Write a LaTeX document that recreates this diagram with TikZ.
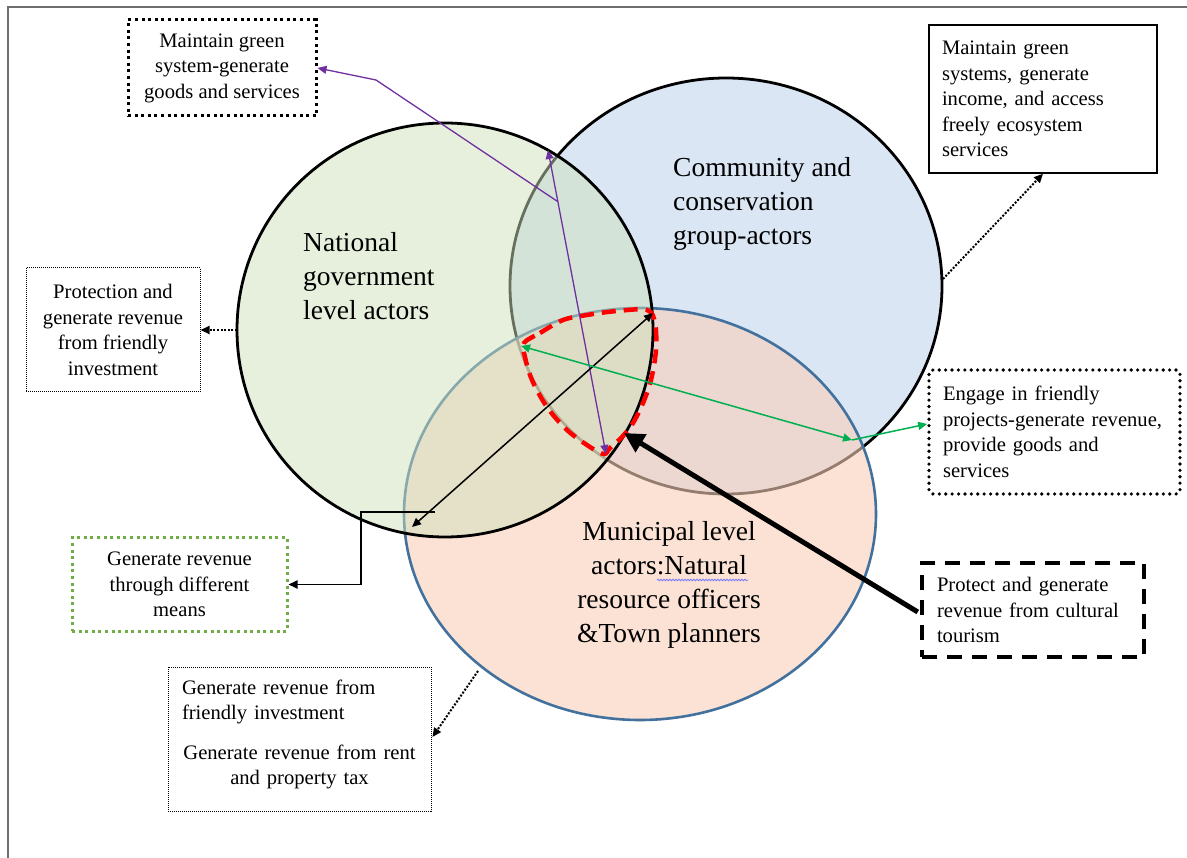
\documentclass[tikz,border=0pt]{standalone}
\usepackage{fontspec}
\setmainfont{Liberation Serif}
\usetikzlibrary{arrows.meta,shapes.geometric,decorations.pathmorphing,calc}

\definecolor{greenfill}{RGB}{207,225,187}
\definecolor{bluefill}{RGB}{218,230,244}
\definecolor{peachfill}{RGB}{248,207,185}
\definecolor{peachline}{RGB}{65,113,156}
\definecolor{arrowpurple}{RGB}{112,48,160}
\definecolor{arrowgreen}{RGB}{0,176,80}
\definecolor{boxgreen}{RGB}{112,173,71}
\definecolor{framegrey}{RGB}{110,110,110}
\definecolor{spellblue}{RGB}{120,120,255}

\tikzset{
  smalltip/.tip={Triangle[length=9pt,width=8pt]},
  actor/.style={ellipse, inner sep=0pt, outer sep=0pt},
  bigtext/.style={font=\fontsize{27.5}{34}\selectfont, inner sep=0pt},
  box/.style={rectangle, font=\fontsize{20.6}{25.5}\selectfont, inner ysep=0pt, fill=white},
  sqdots/.style={draw=black, line width=3pt, dash pattern=on 3pt off 3.6pt},
  solidbox/.style={draw=black, line width=1.4pt},
  finedots/.style={draw=black, line width=1pt, dash pattern=on 1pt off 1pt},
  greendots/.style={draw=boxgreen, line width=3pt, dash pattern=on 3pt off 3.6pt},
  rounddots/.style={draw=black, line width=3.6pt, line cap=round, dash pattern=on 0pt off 6.4pt, rounded corners=4pt},
  longdash/.style={draw=black, line width=4.5pt, dash pattern=on 15pt off 10pt},
  dotarrow/.style={black, line width=2pt, dash pattern=on 2pt off 1.6pt, -{smalltip}},
}

\begin{document}
\begin{tikzpicture}[x=1pt,y=-1pt]
\useasboundingbox (0,0) rectangle (1187,858);

% page frame
\coordinate (frameBL) at (8,858);
\coordinate (frameTL) at (8,7);
\coordinate (frameTR) at (1187,7);
\draw[framegrey, line width=1.6pt] (frameBL) -- (frameTL) -- (frameTR);

% the three actor groups
\node[actor, draw=black, line width=2.8pt, fill=bluefill,
      minimum width=432pt, minimum height=416pt] (community) at (726,286) {};
\node[actor, draw=peachline, line width=2.6pt, fill=peachfill, fill opacity=0.6,
      minimum width=472pt, minimum height=412pt] (municipal) at (640,514) {};
\node[actor, draw=black, line width=2.8pt, fill=greenfill, fill opacity=0.5,
      minimum width=416pt, minimum height=414pt] (national) at (445,330) {};

\node[bigtext, align=left, anchor=west] (natText) at (303,276)
  {National\\government\\level actors};
\node[bigtext, align=left, anchor=west] (comText) at (673,204)
  {Community and\\conservation\\group-actors};
\node[bigtext, align=center] (munText) at (669,585)
  {Municipal level\\actors:Natural\\resource officers\\\&Town planners};
\draw[spellblue, line width=0.8pt, decorate,
      decoration={snake, amplitude=0.8pt, segment length=3pt}]
  (657,580) -- (748,580);

% shared zone of all three groups
\draw[red, line width=4.5pt, dash pattern=on 14pt off 8pt]
  plot[smooth cycle, tension=0.55] coordinates {
    (524,343) (540,333) (563,320) (587,315) (617,311) (647,310)
    (655,323) (656,350) (651,380) (643,403) (633,423) (622,437)
    (610,448) (604,454) (590,447) (567,430) (547,407) (532,380) (525,357)};

% outcome boxes
\node[box, sqdots, minimum width=188pt, minimum height=96pt, align=center]
  (b1) at (222,68) {Maintain green\\system-generate\\goods and services};
\node[box, solidbox, minimum width=228pt, minimum height=148pt,
      text width=202pt, inner xsep=13pt, align=left]
  (b2) at (1043,99)
  {Maintain green\\systems, generate\\income, and access\\freely ecosystem\\services};
\node[box, finedots, minimum width=174pt, minimum height=124pt, align=center]
  (b3) at (113,330)
  {Protection and\\generate revenue\\from friendly\\investment};
\node[box, greendots, minimum width=215pt, minimum height=93pt, align=center]
  (b4) at (179.5,584.5)
  {Generate revenue\\through different\\means};
\node[box, finedots, minimum width=263pt, minimum height=144pt,
      text width=235pt, inner xsep=14pt]
  (b5) at (299.5,739)
  {\raggedright Generate revenue from\\friendly investment\par
   \vspace{14pt}\centering Generate revenue from rent\\and property tax\par
   \kern9pt};
\node[box, rounddots, minimum width=251pt, minimum height=124pt,
      text width=223pt, inner xsep=14pt, align=left]
  (b6) at (1054.5,432)
  {Engage in friendly\\projects-generate revenue,\\provide goods and\\services};
\node[box, longdash, minimum width=222pt, minimum height=94pt,
      text width=192pt, inner xsep=15pt, align=left]
  (b7) at (1033,610)
  {Protect and generate\\revenue from cultural\\tourism};

% connector end points on the circle outlines
\coordinate (pTop) at (548,150);
\coordinate (pBot) at (606,454);
\coordinate (pJoin) at ($(pTop)!0.17!(pBot)$);
\coordinate (pKink) at (376,80);
\coordinate (kTop) at (653,313);
\coordinate (kBot) at (412,527);
\coordinate (kJoin) at (435,512);
\coordinate (kElbow) at (361,512);
\coordinate (gLeft) at (521,346);
\coordinate (gRight) at (852,440);
\coordinate (thickTip) at (624,433);
\coordinate (blueEast) at (943,279);
\coordinate (greenWest) at (237,330);
\coordinate (peachSW) at (478,671);

% purple links
\draw[arrowpurple, line width=1.3pt, {smalltip}-{smalltip}] (pTop) -- (pBot);
\draw[arrowpurple, line width=1.3pt, -{smalltip}] (pJoin) -- (pKink) -- (b1.east);

% black links
\draw[black, line width=1.5pt, {smalltip}-{smalltip}] (kTop) -- (kBot);
\draw[black, line width=1.8pt, -{smalltip}] (kJoin) -- (kElbow) |- (b4.east);

% green links
\draw[arrowgreen, line width=1.5pt, {smalltip}-{smalltip}] (gLeft) -- (gRight);
\draw[arrowgreen, line width=1.5pt, -{smalltip}] (gRight) -- ($(b6.west)+(0,-8)$);

% heavy link from the cultural tourism box
\draw[black, line width=5pt, -{Triangle[length=20pt,width=20pt]}] ($(b7.west)+(-2,2)$) -- (thickTip);

% dotted links
\draw[dotarrow] (blueEast) -- (b2.south);
\draw[dotarrow] (greenWest) -- (b3.east);
\draw[dotarrow] (peachSW) -- ($(b5.east)+(1,-2)$);
\end{tikzpicture}
\end{document}
